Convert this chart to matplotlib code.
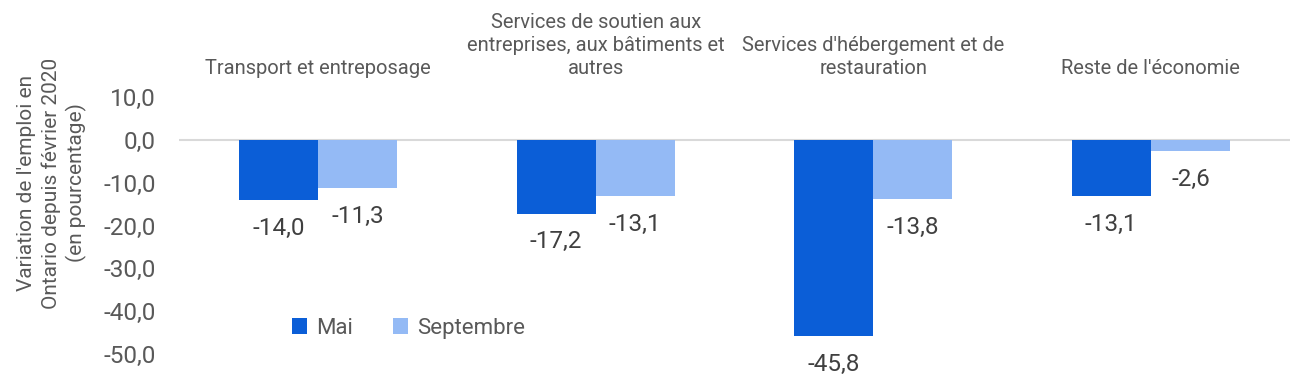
import matplotlib
matplotlib.use("Agg")
import matplotlib.pyplot as plt
import numpy as np

# données
categories = ["Transport et entreposage",
              "Services de soutien aux\nentreprises, aux bâtiments et\nautres",
              "Services d'hébergement et de\nrestauration",
              "Reste de l'économie"]
mai = [-14.0, -17.2, -45.8, -13.1]
septembre = [-11.3, -13.1, -13.8, -2.6]
yticks = [10, 0, -10, -20, -30, -40, -50]

plt.rcParams['font.family'] = ['Roboto', 'DejaVu Sans']
grey = "#595959"

fig = plt.figure(figsize=(13, 3.75), dpi=100)
ax = fig.add_axes([0.138, 0.056, 0.854, 0.685])

x = np.arange(len(categories))
w = 0.285
b1 = ax.bar(x - w / 2, mai, w, color="#0B5ED7", label="Mai", zorder=2)
b2 = ax.bar(x + w / 2, septembre, w, color="#94BAF5", label="Septembre", zorder=2)

def fmt(v):
    return f"{v:.1f}".replace(".", ",")

for bars, vals in [(b1, mai), (b2, septembre)]:
    for r, v in zip(bars, vals):
        ax.annotate(fmt(v), (r.get_x() + r.get_width() / 2, v),
                    xytext=(0, -12), textcoords="offset points",
                    ha="center", va="top", fontsize=17.5, color="#404040")

ax.axhline(0, color="#D9D9D9", lw=1.5, zorder=1)
ax.set_xlim(-0.5, len(categories) - 0.5)
ax.set_ylim(-50, 10)
ax.set_yticks(yticks)
ax.set_yticklabels([fmt(v) for v in yticks], fontsize=17.5, color=grey)
ax.tick_params(axis="y", length=0, pad=17)

ax.xaxis.tick_top()
ax.set_xticks(x)
ax.set_xticklabels(categories, fontsize=14.5, color=grey, linespacing=1.25)
ax.tick_params(axis="x", length=0, pad=14)

for s in ax.spines.values():
    s.set_visible(False)

# titre de l'axe y, placé un peu plus haut que le centre des axes
fig.text(0.040, 1 - 183 / 375,
         "Variation de l'emploi en\nOntario depuis février 2020\n(en pourcentage)",
         rotation=90, ha="center", va="center", multialignment="center",
         fontsize=15, color=grey, linespacing=1.35)

ax.legend(loc="center left", bbox_to_anchor=(0.083, 0.1), ncol=2, frameon=False,
          fontsize=16, labelcolor=grey, handlelength=0.7, handleheight=0.7,
          columnspacing=1.8, handletextpad=0.4)

fig.savefig("out.png", dpi=100)
